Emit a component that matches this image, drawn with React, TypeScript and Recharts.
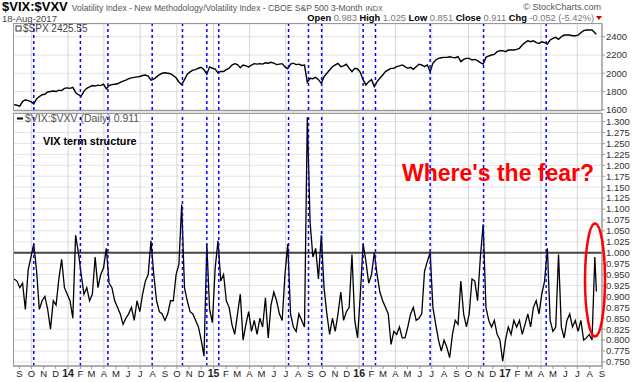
import React from 'react'
import { LineChart, Line, XAxis, YAxis, CartesianGrid, ReferenceLine } from 'recharts'

const DAY = 86400000
const START = Date.UTC(2013, 7, 19) // first weekly sample, Mon 19-Aug-2013
const LAST = '2017-08-18' // last sample is the Friday close
const FONT = '"Liberation Sans", Arial, Helvetica, sans-serif'

// $SPX, one value per week from START, last one is 18-Aug-2017
const spxWeekly = [
  1655, 1650, 1640, 1690, 1710, 1700, 1690, 1665, 1720, 1745, 1765, 1770, 1795, 1800, 1805, 1800,
  1815, 1810, 1835, 1840, 1835, 1845, 1790, 1765, 1750, 1805, 1835, 1850, 1865, 1860, 1870, 1865,
  1880, 1830, 1865, 1875, 1880, 1885, 1900, 1915, 1925, 1940, 1950, 1955, 1960, 1965, 1975, 1980,
  1970, 1925, 1935, 1960, 1985, 2000, 2005, 2000, 1995, 1975, 1950, 1905, 1875, 1930, 1990, 2015,
  2035, 2040, 2055, 2065, 2040, 1990, 2070, 2055, 2045, 2005, 2020, 2020, 2040, 2055, 2090, 2105,
  2095, 2060, 2090, 2080, 2070, 2090, 2105, 2100, 2105, 2100, 2115, 2110, 2120, 2110, 2095, 2100,
  2105, 2070, 2050, 2100, 2110, 2095, 2100, 2085, 2090, 1900, 1945, 1940, 1955, 1930, 1890, 1963,
  2000, 2036, 2072, 2091, 2109, 2072, 2080, 2098, 2054, 2018, 2054, 2047, 2010, 1927, 1872, 1908,
  1930, 1854, 1908, 1945, 1981, 2018, 2036, 2054, 2054, 2072, 2080, 2091, 2072, 2054, 2065, 2043,
  2072, 2098, 2091, 2072, 2091, 2018, 2109, 2145, 2163, 2170, 2174, 2174, 2181, 2174, 2170, 2181,
  2127, 2152, 2163, 2163, 2145, 2152, 2138, 2116, 2101, 2174, 2189, 2200, 2207, 2236, 2247, 2247,
  2236, 2254, 2254, 2254, 2262, 2273, 2309, 2335, 2356, 2345, 2356, 2335, 2327, 2345, 2335, 2320,
  2364, 2382, 2393, 2371, 2400, 2418, 2418, 2418, 2411, 2411, 2418, 2444, 2466, 2473, 2473, 2473,
  2444, 2425.55,
]

// $VIX:$VXV, same weekly sampling
const ratioWeekly = [
  0.94, 0.935, 0.92, 0.93, 0.87, 0.96, 0.99, 1.02, 0.96, 0.87, 0.89, 0.9, 0.87, 0.825, 0.89, 0.88,
  0.94, 0.985, 0.92, 0.905, 0.89, 0.85, 1.04, 1.0, 0.95, 0.905, 0.92, 0.89, 0.905, 0.99, 0.92, 0.95,
  0.965, 1.01, 0.93, 0.92, 0.89, 0.875, 0.86, 0.836, 0.85, 0.86, 0.875, 0.845, 0.89, 0.865, 0.905, 0.935,
  0.95, 1.027, 0.95, 0.89, 0.865, 0.86, 0.845, 0.86, 0.89, 0.89, 0.95, 0.973, 1.11, 0.92, 0.89, 0.865,
  0.86, 0.845, 0.83, 0.8, 0.763, 1.02, 0.87, 0.84, 0.965, 1.027, 0.935, 0.95, 0.89, 0.875, 0.836, 0.813,
  0.86, 0.905, 0.8, 0.836, 0.865, 0.82, 0.845, 0.813, 0.85, 0.83, 0.897, 0.805, 0.88, 0.91, 0.89, 0.86,
  0.845, 0.95, 1.02, 0.86, 0.83, 0.82, 0.86, 0.845, 0.83, 1.31, 1.07, 0.99, 1.01, 0.94, 1.04, 0.92,
  0.86, 0.813, 0.85, 0.82, 0.86, 0.91, 0.845, 0.865, 0.875, 0.996, 0.845, 0.805, 0.905, 1.02, 0.98, 0.93,
  0.95, 1.0, 0.95, 0.91, 0.89, 0.875, 0.86, 0.79, 0.82, 0.813, 0.83, 0.805, 0.805, 0.83, 0.86, 0.875,
  0.845, 0.85, 0.86, 0.958, 0.98, 1.0, 0.875, 0.836, 0.8, 0.775, 0.8, 0.783, 0.76, 0.813, 0.845, 0.836,
  0.935, 0.86, 0.83, 0.86, 0.94, 0.935, 0.89, 0.99, 1.065, 0.875, 0.845, 0.83, 0.845, 0.813, 0.8, 0.752,
  0.8, 0.83, 0.813, 0.845, 0.83, 0.845, 0.813, 0.836, 0.86, 0.83, 0.875, 0.89, 0.86, 0.905, 0.935, 1.01,
  0.845, 0.82, 0.83, 0.996, 0.83, 0.805, 0.845, 0.86, 0.83, 0.845, 0.82, 0.845, 0.8, 0.805, 0.813, 0.8,
  0.99, 0.911,
]

const spxTicks = [1600, 1800, 2000, 2200, 2400]
const ratioTicks = [
  0.75, 0.775, 0.8, 0.825, 0.85, 0.875, 0.9, 0.925, 0.95, 0.975, 1.0, 1.025, 1.05, 1.075, 1.1, 1.125,
  1.15, 1.175, 1.2, 1.225, 1.25, 1.275, 1.3,
]

// blue dashed markers drawn where the ratio pokes above 1
const spikeDates = [
  '2013-10-07', '2014-02-01', '2014-04-11', '2014-07-31', '2014-10-15', '2014-12-15', '2015-01-14',
  '2015-07-08', '2015-08-27', '2015-09-29', '2016-01-11', '2016-02-11', '2016-06-27', '2016-11-08',
  '2017-04-14',
]

const monthLetters = ['J', 'F', 'M', 'A', 'M', 'J', 'J', 'A', 'S', 'O', 'N', 'D']

const X_DOMAIN: [number, number] = [-3, 1474]
const dayOf = (s: string) => (Date.parse(s + 'T00:00:00Z') - START) / DAY
const tAt = (i: number, n: number) => (i === n - 1 ? dayOf(LAST) : i * 7)

const spxData = spxWeekly.map((v, i) => ({ t: tAt(i, spxWeekly.length), spx: v }))
const ratioData = ratioWeekly.map((v, i) => ({ t: tAt(i, ratioWeekly.length), ratio: v }))

const monthTicks: number[] = []
for (let y = 2013; y <= 2017; y++) {
  for (let m = 0; m < 12; m++) {
    const d = (Date.UTC(y, m, 1) - START) / DAY
    if (d >= X_DOMAIN[0] && d <= X_DOMAIN[1]) monthTicks.push(d)
  }
}
const monthOf = (d: number) => new Date(START + d * DAY).getUTCMonth()
const quarterTicks = monthTicks.filter((d) => monthOf(d) % 3 === 0)
const spikeDays = spikeDates.map(dayOf)

const MonthTick = (props: any) => {
  const { x, y, payload } = props
  const dt = new Date(START + payload.value * DAY)
  const m = dt.getUTCMonth()
  const isYear = m === 0
  return (
    <text
      x={x}
      y={y + 6}
      textAnchor="middle"
      fontFamily={FONT}
      fontSize={isYear ? 10.5 : 9.5}
      fontWeight={isYear ? 'bold' : 'normal'}
      fill="#222"
    >
      {isYear ? String(dt.getUTCFullYear()).slice(2) : monthLetters[m]}
    </text>
  )
}

const axisTick = { fontSize: 9.5, fill: '#333', fontFamily: FONT }

export default function App() {
  return (
    <div style={{ position: 'absolute', left: 0, top: 0, width: 640, height: 382, background: '#fff', overflow: 'hidden' }}>
      {/* lower panel: VIX/VXV */}
      <div style={{ position: 'absolute', left: 0, top: 0 }}>
        <LineChart width={640} height={382} data={ratioData} margin={{ top: 113, right: 0, bottom: 0, left: 13 }}>
          <CartesianGrid vertical={false} stroke="#e4e4e4" />
          <XAxis
            dataKey="t"
            type="number"
            domain={X_DOMAIN}
            allowDataOverflow
            ticks={monthTicks}
            interval={0}
            height={16}
            tick={<MonthTick />}
            tickSize={3}
            tickLine={{ stroke: '#999' }}
            axisLine={{ stroke: '#999' }}
          />
          <YAxis
            orientation="right"
            width={38}
            domain={[0.7407, 1.3197]}
            allowDataOverflow
            ticks={ratioTicks}
            interval={0}
            tickFormatter={(v: number) => v.toFixed(3)}
            tick={axisTick}
            tickSize={3}
            tickMargin={1}
            tickLine={{ stroke: '#999' }}
            axisLine={{ stroke: '#999' }}
          />
          {quarterTicks.map((d) => (
            <ReferenceLine key={'q' + d} x={d} stroke="#d6d6d6" strokeWidth={1} />
          ))}
          <ReferenceLine y={1} stroke="#444" strokeWidth={2} />
          <Line
            type="linear"
            dataKey="ratio"
            stroke="#000"
            strokeWidth={1.3}
            dot={false}
            isAnimationActive={false}
          />
          {spikeDays.map((d) => (
            <ReferenceLine key={'s' + d} x={d} stroke="#0000ff" strokeWidth={1.5} strokeDasharray="3 3" />
          ))}
        </LineChart>
      </div>

      {/* upper panel: S&P 500 */}
      <div style={{ position: 'absolute', left: 0, top: 0 }}>
        <LineChart width={640} height={120} data={spxData} margin={{ top: 24, right: 0, bottom: 10, left: 13 }}>
          <CartesianGrid vertical={false} stroke="#e4e4e4" />
          <XAxis dataKey="t" type="number" domain={X_DOMAIN} allowDataOverflow hide />
          <YAxis
            orientation="right"
            width={38}
            domain={[1598, 2539]}
            allowDataOverflow
            ticks={spxTicks}
            interval={0}
            tick={axisTick}
            tickSize={3}
            tickMargin={1}
            tickLine={{ stroke: '#999' }}
            axisLine={{ stroke: '#999' }}
          />
          {quarterTicks.map((d) => (
            <ReferenceLine key={'q' + d} x={d} stroke="#d6d6d6" strokeWidth={1} />
          ))}
          <Line
            type="linear"
            dataKey="spx"
            stroke="#000"
            strokeWidth={1.4}
            dot={false}
            isAnimationActive={false}
          />
          {spikeDays.map((d) => (
            <ReferenceLine key={'s' + d} x={d} stroke="#0000ff" strokeWidth={1.5} strokeDasharray="3 3" />
          ))}
        </LineChart>
      </div>

      {/* frames, titles and notes */}
      <svg width={640} height={382} style={{ position: 'absolute', left: 0, top: 0, pointerEvents: 'none' }}>
        <rect x={13.5} y={110.5} width={588} height={3} fill="#e2e2e2" stroke="none" />
        <rect x={13.5} y={23.5} width={588.5} height={87} fill="none" stroke="#999" />
        <rect x={13.5} y={113.5} width={588.5} height={252.5} fill="none" stroke="#999" />

        <text x={2} y={10.5} fontFamily={FONT} fontSize={13} fontWeight="bold" fill="#000">
          $VIX:$VXV
          <tspan fontSize={8.6} fontWeight="normal" fill="#555" dx={4}>
            Volatility Index - New Methodology/Volatility Index - CBOE S&amp;P 500 3-Month
          </tspan>
          <tspan fontSize={7.2} fontWeight="normal" fill="#555" dx={3}>INDX</tspan>
        </text>
        <text x={601} y={10} textAnchor="end" fontFamily={FONT} fontSize={9} fill="#555">
          © StockCharts.com
        </text>
        <text x={2} y={21.5} fontFamily={FONT} fontSize={9.5} fill="#444">
          18-Aug-2017
        </text>
        <text x={594} y={21} textAnchor="end" fontFamily={FONT} fontSize={9.3} fill="#777">
          <tspan fontWeight="bold" fill="#000">Open</tspan> 0.983 <tspan fontWeight="bold" fill="#000">High</tspan> 1.025{' '}
          <tspan fontWeight="bold" fill="#000">Low</tspan> 0.851 <tspan fontWeight="bold" fill="#000">Close</tspan> 0.911{' '}
          <tspan fontWeight="bold" fill="#000">Chg</tspan> -0.052 (-5.42%)
        </text>
        <polygon points="596,16 602,16 599,20" fill="#c00" />

        <rect x={16} y={26} width={5} height={5} fill="none" stroke="#333" strokeWidth={1} />
        <text x={23} y={31.5} fontFamily={FONT} fontSize={10} fill="#444">
          $SPX 2425.55
        </text>
        <line x1={17} y1={118.5} x2={23} y2={118.5} stroke="#000" strokeWidth={2} />
        <text x={25} y={122} fontFamily={FONT} fontSize={10.5} fill="#555">
          $VIX:$VXV (Daily) 0.911
        </text>
        <text x={43} y={145} fontFamily={FONT} fontSize={10.8} fontWeight="bold" fill="#000">
          VIX term structure
        </text>
        <text x={402} y={181} fontFamily={FONT} fontSize={23} fontWeight="bold" fill="#ff0000">
          Where's the fear?
        </text>
        <ellipse cx={595} cy={280} rx={10} ry={56.5} fill="none" stroke="#ff0000" strokeWidth={2.5} />
      </svg>
    </div>
  )
}
